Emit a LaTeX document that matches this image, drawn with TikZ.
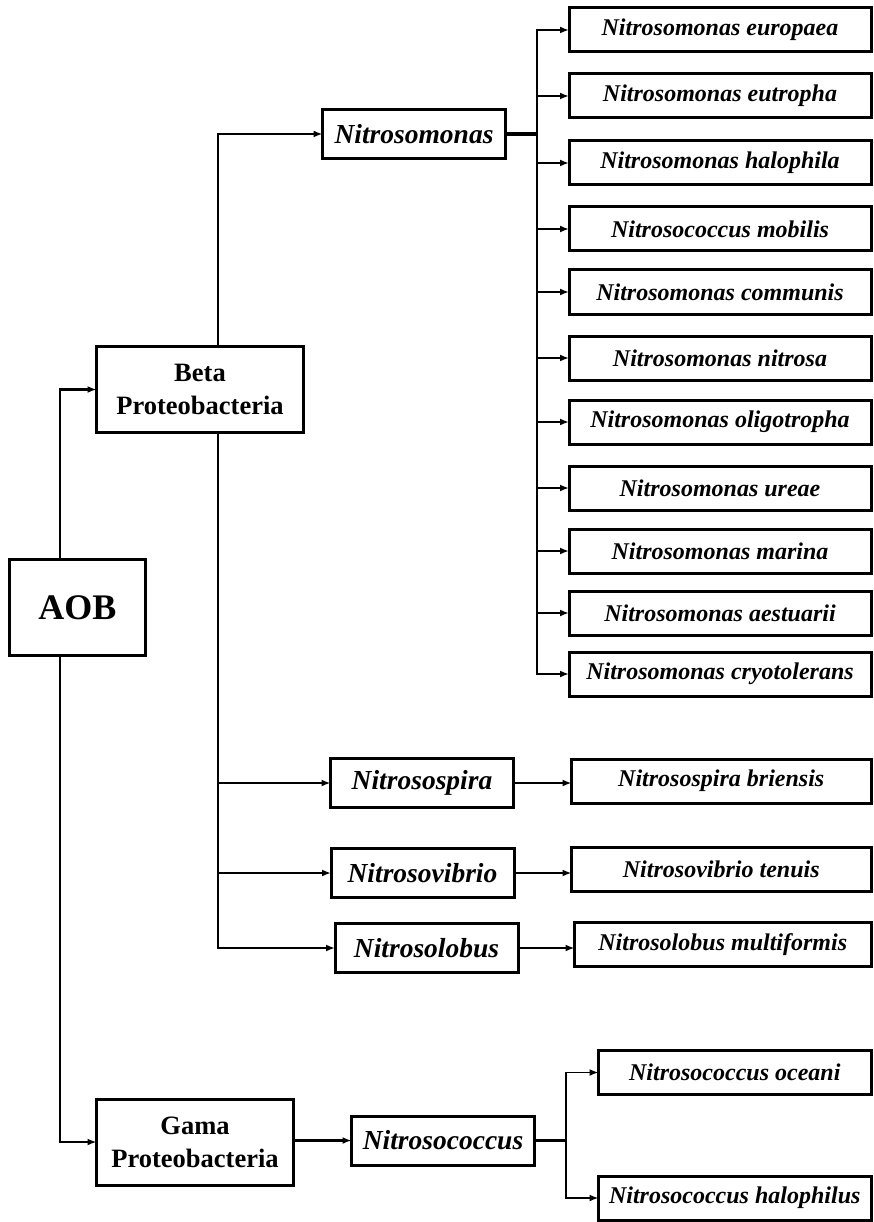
\documentclass[tikz,border=0pt]{standalone}
\usepackage{fontspec}
\setmainfont{Liberation Serif}
\usetikzlibrary{arrows.meta}

\begin{document}
\begin{tikzpicture}[
      x=1pt, y=-1pt,
      box/.style={draw, line width=3pt, outer sep=0pt, inner sep=0pt, align=center},
      species/.style={box, anchor=east, minimum width=302pt, minimum height=44pt, font=\fontsize{24}{28}\selectfont\bfseries\itshape},
      genus/.style={box, minimum width=183pt, minimum height=49pt, font=\fontsize{27.5}{32}\selectfont\bfseries\itshape},
      phylum/.style={box, minimum height=86pt, font=\fontsize{26.5}{33}\selectfont\bfseries},
      arr/.style={-{Latex[length=9pt,width=7pt]}, line width=1.8pt},
      fork/.style={line width=4pt},
    ]

    \useasboundingbox (0,0) rectangle (874,1222);

    \node[box, minimum width=136pt, minimum height=96pt, font=\fontsize{36}{40}\selectfont\bfseries] (aob) at (77.5,607.5) {AOB};

    \node[phylum, minimum width=207pt] (beta) at (200,389.5) {Beta\\Proteobacteria};
    \node[phylum, minimum width=197pt] (gama) at (195,1142) {Gama\\Proteobacteria};

    \node[genus] (nsm) at (414,134) {Nitrosomonas};
    \node[genus] (spira) at (422,783) {Nitrosospira};
    \node[genus] (vibrio) at (422.5,873) {Nitrosovibrio};
    \node[genus] (lobus) at (426.5,948) {Nitrosolobus};
    \node[genus] (ncc) at (443,1140.5) {Nitrosococcus};

    \node[species] (eur) at (871,30) {Nitrosomonas europaea};
    \node[species] (eut) at (871,96) {Nitrosomonas eutropha};
    \node[species] (hph) at (871,163) {Nitrosomonas halophila};
    \node[species] (mob) at (871,229) {Nitrosococcus mobilis};
    \node[species] (com) at (871,292) {Nitrosomonas communis};
    \node[species] (nsa) at (871,358) {Nitrosomonas nitrosa};
    \node[species] (oli) at (871,422) {Nitrosomonas oligotropha};
    \node[species] (ure) at (871,488) {Nitrosomonas ureae};
    \node[species] (mar) at (871,551) {Nitrosomonas marina};
    \node[species] (aes) at (871,613) {Nitrosomonas aestuarii};
    \node[species] (cry) at (871,674) {Nitrosomonas cryotolerans};

    \node[species, minimum width=299.5pt] (bri) at (871,781) {Nitrosospira briensis};
    \node[species, minimum width=299.5pt] (ten) at (871,869.5) {Nitrosovibrio tenuis};
    \node[species, minimum width=296.5pt] (mul) at (871,944.5) {Nitrosolobus multiformis};
    \node[species, minimum width=272.5pt] (oce) at (871,1072.5) {Nitrosococcus oceani};
    \node[species, minimum width=272.5pt] (hal) at (871,1198) {Nitrosococcus halophilus};

    \coordinate (nsmfork) at (537,134);
    \coordinate (nccfork) at (566,1140.5);

    % AOB to the two classes
    \draw[arr, line width=2.4pt] ([xshift=-17.5pt]aob.north) |- (beta.west);
    \draw[arr, line width=2.4pt] ([xshift=-17.5pt]aob.south) |- (gama.west);

    % Beta branch
    \draw[arr, line width=2.2pt] ([xshift=18pt]beta.north) |- (nsm.west);
    \draw[arr, line width=2.2pt] ([xshift=18pt]beta.south) |- (spira.west);
    \draw[arr, line width=2.2pt] ([xshift=18pt]beta.south) |- (vibrio.west);
    \draw[arr, line width=2.2pt] ([xshift=18pt]beta.south) |- (lobus.west);

    \draw[fork] (nsm.east) -- (nsmfork);
    \draw[arr] (nsmfork) |- (eur.west);
    \draw[arr] (nsmfork) |- (eut.west);
    \draw[arr] (nsmfork) |- (hph.west);
    \draw[arr] (nsmfork) |- (mob.west);
    \draw[arr] (nsmfork) |- (com.west);
    \draw[arr] (nsmfork) |- (nsa.west);
    \draw[arr] (nsmfork) |- (oli.west);
    \draw[arr] (nsmfork) |- (ure.west);
    \draw[arr] (nsmfork) |- (mar.west);
    \draw[arr] (nsmfork) |- (aes.west);
    \draw[arr] (nsmfork) |- (cry.west);

    \draw[arr] (spira.east) -- (spira.east -| bri.west);
    \draw[arr] (vibrio.east) -- (vibrio.east -| ten.west);
    \draw[arr] (lobus.east) -- (lobus.east -| mul.west);

    % Gama branch
    \draw[arr, line width=2.6pt] (gama.east |- ncc.west) -- (ncc.west);
    \draw[fork, line width=3pt] (ncc.east) -- (nccfork);
    \draw[arr] (nccfork) |- (oce.west);
    \draw[arr] (nccfork) |- (hal.west);

  \end{tikzpicture}
\end{document}
